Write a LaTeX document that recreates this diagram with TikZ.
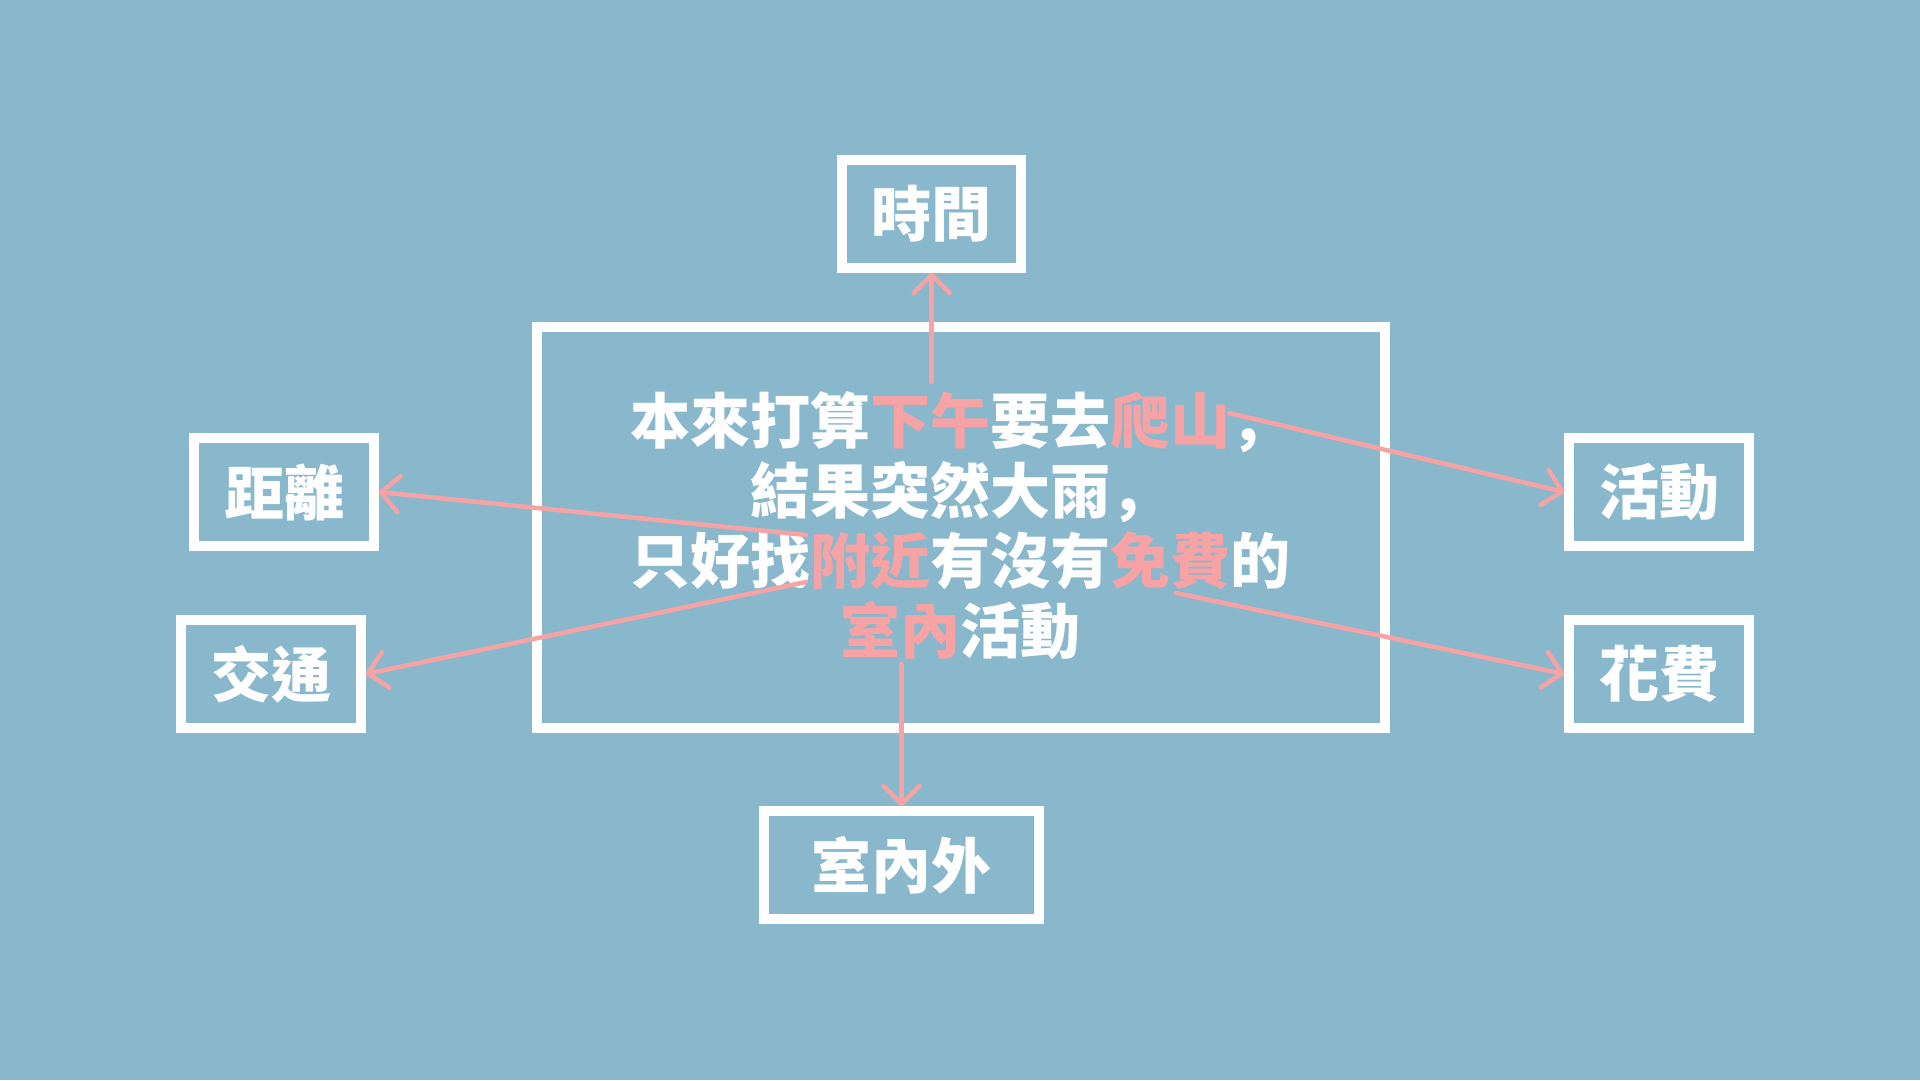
\documentclass[tikz,border=0pt]{standalone}
\usepackage{fontspec}
\newfontfamily\cjk{Noto Sans CJK TC}
\newfontfamily\cjksc{Noto Sans CJK SC}
\newcommand\sccomma{{\cjksc\bfseries ，}}
\usetikzlibrary{arrows.meta}
\definecolor{bgblue}{HTML}{89B8CC}
\definecolor{pinkc}{HTML}{F7A3A5}
\begin{document}
\begin{tikzpicture}[x=1pt,y=-1pt,
  box/.style={draw=white,line width=10pt,inner sep=0pt,
    minimum width=#1,minimum height=107.5pt,text=white,
    font=\cjk\bfseries\fontsize{60}{70}\selectfont},
  box/.default=179.5pt,
  arr/.style={draw=pinkc,line width=4.5pt,line cap=round,
    -{Straight Barb[length=18pt,width=36pt,line cap=round,line join=round]}}]
\fill[bgblue] (0,0) rectangle (1920,1080);
\useasboundingbox (0,0) rectangle (1920,1080);
% central box
\node[box=848pt,minimum height=401.5pt] (main) at (960.6,527.5) {};
\node[align=center,text=white,font=\cjk\bfseries\fontsize{60}{70}\selectfont] (txt) at (960.6,525.5)
  {本來打算\textcolor{pinkc}{下午}要去\textcolor{pinkc}{爬山}\sccomma\\
   結果突然大雨\sccomma\\
   只好找\textcolor{pinkc}{附近}有沒有\textcolor{pinkc}{免費}的\\
   \textcolor{pinkc}{室內}活動};
% outer boxes
\node[box] (sj) at (931.6,214) {時間};
\node[box] (jl) at (284,492) {距離};
\node[box] (jt) at (271,674) {交通};
\node[box] (hd) at (1659,492) {活動};
\node[box] (hf) at (1659,674) {花費};
\node[box=274.5pt] (snw) at (901.5,865) {室內外};
% arrow starts
\coordinate (a1) at (931.6,382);
\coordinate (a2) at (806,535);
\coordinate (a3) at (806,582);
\coordinate (a4) at (1229,413);
\coordinate (a5) at (1176,593);
\coordinate (a6) at (901.5,664);
\draw[arr] (a1) -- (sj.south);
\draw[arr] (a2) -- (jl.east);
\draw[arr] (a3) -- (jt.east);
\draw[arr] (a4) -- (hd.west);
\draw[arr] (a5) -- (hf.west);
\draw[arr] (a6) -- (snw.north);
\end{tikzpicture}
\end{document}
